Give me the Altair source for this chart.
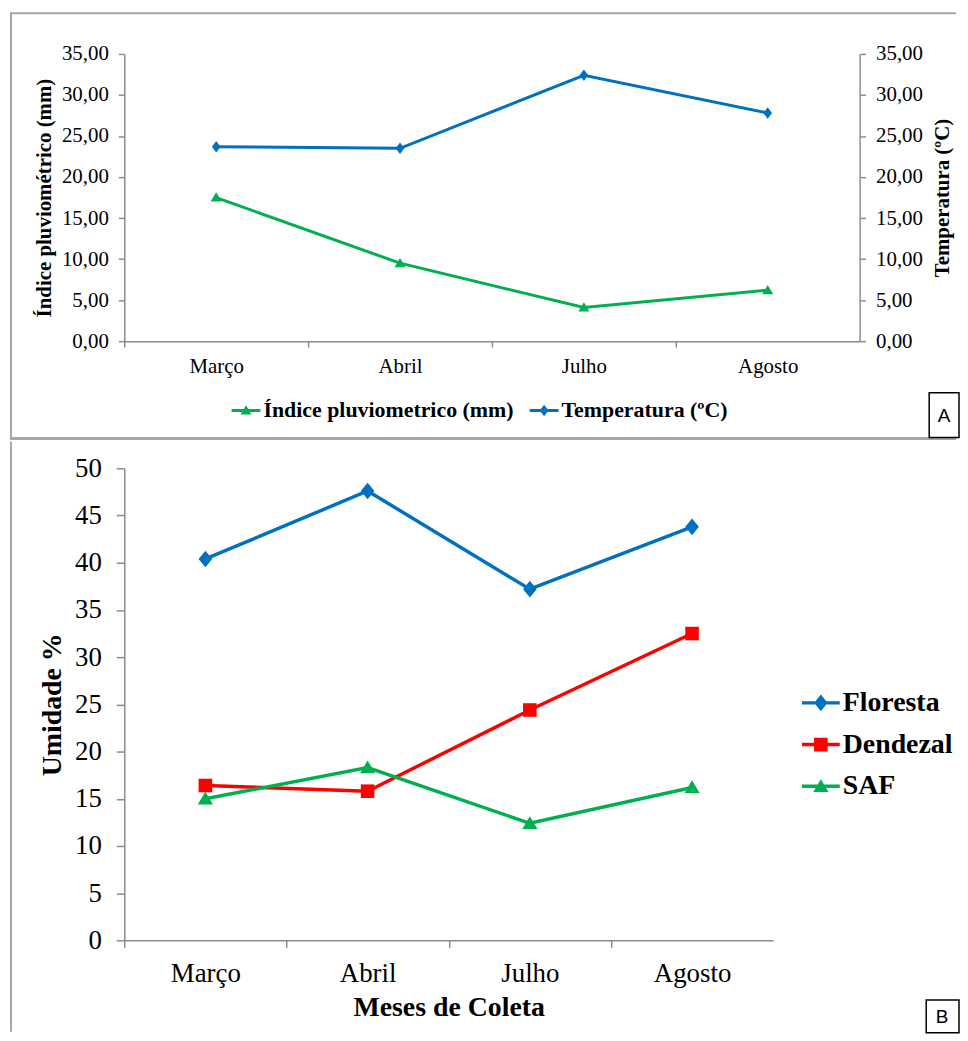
import altair as alt
import pandas as pd

# ---------------- data ----------------
meses = ["Março", "Abril", "Julho", "Agosto"]

# Panel A
indice_pluv = [17.5, 9.5, 4.1, 6.2]
temperatura = [23.7, 23.5, 32.4, 27.8]
series_a = ["Índice pluviometrico (mm)", "Temperatura (ºC)"]
cores_a = ["#00B050", "#0070C0"]
ticks_a = [0, 5, 10, 15, 20, 25, 30, 35]

# Panel B
floresta = [40.4, 47.6, 37.2, 43.8]
dendezal = [16.4, 15.8, 24.4, 32.5]
saf = [15.0, 18.3, 12.4, 16.2]
series_b = ["Floresta", "Dendezal", "SAF"]
cores_b = ["#0070C0", "#FF0000", "#00B050"]
ticks_b = [0, 5, 10, 15, 20, 25, 30, 35, 40, 45, 50]

FONT = "Liberation Serif"
GRAY = "#8c8c8c"
FRAME = "#a6a6a6"

# marker symbol paths (plot markers)
TRI_A = "M0,-0.36L0.38,0.28L-0.38,0.28Z"
DIA_A = "M0,-0.4L0.3,0L0,0.4L-0.3,0Z"
DIA_B = "M0,-0.44L0.36,0L0,0.44L-0.36,0Z"
SQ_B = "M-0.36,-0.36L0.36,-0.36L0.36,0.36L-0.36,0.36Z"
TRI_B = "M0,-0.38L0.4,0.3L-0.4,0.3Z"
# legend symbols: marker with line arms (Excel style)
TRI_A_LEG = ("M-1,-0.1L-0.154,-0.1L0,-0.36L0.154,-0.1L1,-0.1L1,0.1L0.273,0.1"
             "L0.38,0.28L-0.38,0.28L-0.273,0.1L-1,0.1Z")
DIA_A_LEG = ("M-1,-0.1L-0.225,-0.1L0,-0.4L0.225,-0.1L1,-0.1L1,0.1L0.225,0.1"
             "L0,0.4L-0.225,0.1L-1,0.1Z")
DIA_B_LEG = ("M-1,-0.092L-0.285,-0.092L0,-0.44L0.285,-0.092L1,-0.092L1,0.092"
             "L0.285,0.092L0,0.44L-0.285,0.092L-1,0.092Z")
SQ_B_LEG = ("M-1,-0.092L-0.36,-0.092L-0.36,-0.36L0.36,-0.36L0.36,-0.092L1,-0.092"
            "L1,0.092L0.36,0.092L0.36,0.36L-0.36,0.36L-0.36,0.092L-1,0.092Z")
TRI_B_LEG = ("M-1,-0.092L-0.169,-0.092L0,-0.38L0.169,-0.092L1,-0.092L1,0.092"
             "L0.278,0.092L0.4,0.3L-0.4,0.3L-0.278,0.092L-1,0.092Z")

rows_a = []
for nome, vals in zip(series_a, [indice_pluv, temperatura]):
    for m, v in zip(meses, vals):
        rows_a.append({"mes": m, "valor": v, "serie": nome, "s2": nome, "s3": nome})
df_a = pd.DataFrame(rows_a)

rows_b = []
for nome, vals in zip(series_b, [floresta, dendezal, saf]):
    for m, v in zip(meses, vals):
        rows_b.append({"mes": m, "valor": v, "serie": nome, "s2": nome, "s3": nome})
df_b = pd.DataFrame(rows_b)

one = pd.DataFrame({"k": [0]})

# ---------------- panel A ----------------
WA, HA = 740, 289
step_a = WA / 4

x_a = alt.X("mes:N", sort=meses,
            scale=alt.Scale(type="point", padding=0.5),
            axis=alt.Axis(title=None, tickOffset=-step_a / 2, labelOffset=step_a / 2,
                          labelAngle=0, labelFont=FONT, labelFontSize=21, labelPadding=9,
                          tickSize=6))

ylab_expr = "replace(format(datum.value, '.2f'), '.', ',')"
y_scale_a = alt.Scale(domain=[0, 35], nice=False)
y_none_a = alt.Y("valor:Q", scale=y_scale_a, axis=None)

lines_a = alt.Chart(df_a).mark_line(strokeWidth=3).encode(
    x=x_a,
    y=alt.Y("valor:Q", scale=y_scale_a,
            axis=alt.Axis(values=ticks_a, labelExpr=ylab_expr,
                          title="Índice pluviométrico (mm)", titleFont=FONT, titleFontSize=21,
                          titleFontWeight="bold", titleX=-70, labelFont=FONT,
                          labelFontSize=21, labelPadding=10, tickSize=6)),
    color=alt.Color("serie:N", scale=alt.Scale(domain=series_a, range=cores_a), legend=None),
)

points_a = alt.Chart(df_a).mark_point(filled=True, size=841, opacity=1, strokeWidth=0).encode(
    x=x_a, y=y_none_a,
    color=alt.Color("s2:N", scale=alt.Scale(domain=series_a, range=cores_a), legend=None),
    shape=alt.Shape("s2:N", scale=alt.Scale(domain=series_a, range=[TRI_A, DIA_A]),
                    legend=None),
)

leg_a = alt.Legend(title=None, orient="none", direction="horizontal",
                   legendX=108, legendY=344, symbolSize=841, symbolStrokeWidth=0,
                   symbolOpacity=1, labelFont=FONT, labelFontSize=22, labelFontWeight="bold",
                   labelColor="black", labelLimit=500, columnPadding=16, labelOffset=3)
legend_a = alt.Chart(df_a).mark_point(filled=True, size=841, opacity=0).encode(
    x=x_a, y=y_none_a,
    color=alt.Color("s3:N", scale=alt.Scale(domain=series_a, range=cores_a), legend=leg_a),
    shape=alt.Shape("s3:N", scale=alt.Scale(domain=series_a, range=[TRI_A_LEG, DIA_A_LEG]),
                    legend=leg_a),
)

right_a = alt.Chart(df_a).mark_point(opacity=0).encode(
    x=x_a,
    y=alt.Y("valor:Q", scale=y_scale_a,
            axis=alt.Axis(orient="right", values=ticks_a, labelExpr=ylab_expr,
                          title="Temperatura (ºC)", titleAngle=270, titleBaseline="top",
                          titleFont=FONT, titleFontSize=21, titleFontWeight="bold",
                          titleX=72, labelFont=FONT, labelFontSize=21,
                          labelPadding=10, tickSize=6)),
)

frame_a_top = alt.Chart(one).mark_rule(color=FRAME, strokeWidth=2).encode(
    x=alt.value(-115), x2=alt.value(837), y=alt.value(-41))
frame_a_left = alt.Chart(one).mark_rule(color=FRAME, strokeWidth=2).encode(
    x=alt.value(-114), y=alt.value(-42), y2=alt.value(387))
frame_a_bot = alt.Chart(one).mark_rule(color=FRAME, strokeWidth=3).encode(
    x=alt.value(-115), x2=alt.value(837), y=alt.value(387))
box_a = alt.Chart(one).mark_rect(fill="white", stroke="black", strokeWidth=1.5).encode(
    x=alt.value(810), x2=alt.value(840), y=alt.value(341), y2=alt.value(386))
txt_a = alt.Chart(one).mark_text(text="A", font="Liberation Sans", fontSize=19,
                                 align="center", baseline="middle").encode(
    x=alt.value(825), y=alt.value(364))

panel_a = alt.layer(frame_a_top, frame_a_left, frame_a_bot, lines_a, points_a, legend_a,
                    right_a, box_a, txt_a).resolve_scale(
    color="independent", shape="independent").resolve_axis(y="independent").properties(
    width=WA, height=HA)

# ---------------- panel B ----------------
WB, HB = 653, 475
step_b = WB / 4

x_b = alt.X("mes:N", sort=meses,
            scale=alt.Scale(type="point", padding=0.5),
            axis=alt.Axis(title="Meses de Coleta", titleFont=FONT, titleFontSize=28,
                          titleFontWeight="bold", titlePadding=8,
                          tickOffset=-step_b / 2, labelOffset=step_b / 2,
                          labelAngle=0, labelFont=FONT, labelFontSize=27, labelPadding=13,
                          tickSize=7))

y_scale_b = alt.Scale(domain=[0, 50], nice=False)
y_none_b = alt.Y("valor:Q", scale=y_scale_b, axis=None)

lines_b = alt.Chart(df_b).mark_line(strokeWidth=3.5).encode(
    x=x_b,
    y=alt.Y("valor:Q", scale=y_scale_b,
            axis=alt.Axis(values=ticks_b, title="Umidade %", titleFont=FONT,
                          titleFontSize=28, titleFontWeight="bold", titleX=-58,
                          labelFont=FONT, labelFontSize=27, labelPadding=15, tickSize=8)),
    color=alt.Color("serie:N", scale=alt.Scale(domain=series_b, range=cores_b), legend=None),
)

points_b = alt.Chart(df_b).mark_point(filled=True, size=1444, opacity=1, strokeWidth=0).encode(
    x=x_b, y=y_none_b,
    color=alt.Color("s2:N", scale=alt.Scale(domain=series_b, range=cores_b), legend=None),
    shape=alt.Shape("s2:N", scale=alt.Scale(domain=series_b, range=[DIA_B, SQ_B, TRI_B]),
                    legend=None),
)

leg_b = alt.Legend(title=None, orient="none", direction="vertical",
                   legendX=682, legendY=217, symbolSize=1444, symbolStrokeWidth=0,
                   symbolOpacity=1, labelFont=FONT, labelFontSize=28, labelFontWeight="bold",
                   labelColor="black", labelLimit=500, rowPadding=9, labelOffset=3)
legend_b = alt.Chart(df_b).mark_point(filled=True, size=1444, opacity=0).encode(
    x=x_b, y=y_none_b,
    color=alt.Color("s3:N", scale=alt.Scale(domain=series_b, range=cores_b), legend=leg_b),
    shape=alt.Shape("s3:N", scale=alt.Scale(domain=series_b,
                                            range=[DIA_B_LEG, SQ_B_LEG, TRI_B_LEG]),
                    legend=leg_b),
)

frame_b_left = alt.Chart(one).mark_rule(color=FRAME, strokeWidth=2).encode(
    x=alt.value(-114), y=alt.value(-27), y2=alt.value(567))
box_b = alt.Chart(one).mark_rect(fill="white", stroke="black", strokeWidth=1.5).encode(
    x=alt.value(807), x2=alt.value(840), y=alt.value(535), y2=alt.value(568))
txt_b = alt.Chart(one).mark_text(text="B", font="Liberation Sans", fontSize=19,
                                 align="center", baseline="middle").encode(
    x=alt.value(823), y=alt.value(552))

panel_b = alt.layer(frame_b_left, lines_b, points_b, legend_b, box_b, txt_b).resolve_scale(
    color="independent", shape="independent").resolve_axis(y="independent").properties(
    width=WB, height=HB)

chart = alt.vconcat(panel_a, panel_b, spacing=0).properties(padding=0).configure(
    font=FONT
).configure_view(stroke=None).configure_axis(
    grid=False, domainColor=GRAY, tickColor=GRAY, domainWidth=1.5, tickWidth=1.5,
    labelColor="black", titleColor="black", labelFont=FONT, titleFont=FONT
)

chart.save("out.html", embed_options={"renderer": "svg", "actions": False})
